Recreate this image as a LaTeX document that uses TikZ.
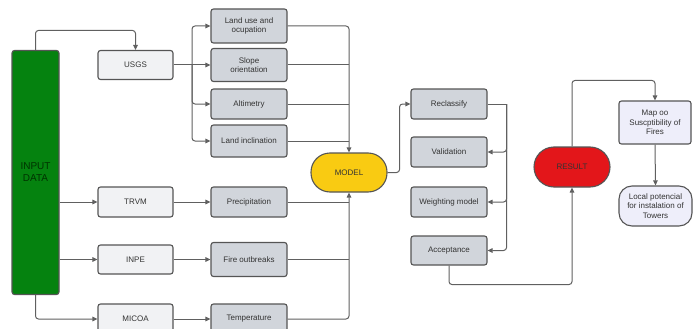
\documentclass[tikz,border=0pt]{standalone}
\usepackage{fontspec}
\setmainfont{Liberation Sans}
\usetikzlibrary{arrows.meta}
\definecolor{lineC}{HTML}{606060}
\definecolor{edgeC}{HTML}{555555}
\definecolor{txtC}{HTML}{333333}
\definecolor{srcC}{HTML}{F1F2F4}
\definecolor{varC}{HTML}{D1D5DB}
\definecolor{grnC}{HTML}{05820F}
\definecolor{ylwC}{HTML}{F9CB12}
\definecolor{redC}{HTML}{E3161A}
\definecolor{lavC}{HTML}{EEEEFA}
\tikzset{
  base/.style={draw=edgeC, line width=1.1pt, rounded corners=2.5pt, align=center,
    text=txtC, font=\fontsize{8}{9.5}\selectfont, inner sep=1pt},
  srcbox/.style={base, fill=srcC, minimum width=75pt, minimum height=29pt},
  varbox/.style={base, fill=varC, minimum width=76pt, minimum height=30pt},
  pill/.style={base, minimum width=76pt, minimum height=39pt, rounded corners=19pt},
  mapbox/.style={base, fill=lavC, minimum width=72pt, minimum height=43pt},
  conn/.style={draw=lineC, line width=1pt, rounded corners=3pt},
  arr/.style={conn, -{Triangle[length=5pt,width=4.5pt]}}
}
\begin{document}
\begin{tikzpicture}[x=1pt,y=-1pt]
\useasboundingbox (0,0) rectangle (693,329);
\clip (0,0) rectangle (693,329);
% input
\node[base, fill=grnC, minimum width=47pt, minimum height=244pt, text=black!80!green,
  font=\fontsize{10}{12}\selectfont] (input) at (35.5,172.5) {INPUT\\DATA};
% sources
\node[srcbox] (usgs) at (135.5,65) {USGS};
\node[srcbox, minimum height=30pt] (trvm) at (135.5,202) {TRVM};
\node[srcbox] (inpe) at (135.5,259.5) {INPE};
\node[srcbox, minimum height=30pt] (micoa) at (135.5,319) {MICOA};
% variables
\node[varbox, minimum height=34pt] (landuse) at (249,26) {Land use and\\ocupation};
\node[varbox, minimum height=33pt] (slope) at (249,65) {Slope\\orientation};
\node[varbox] (alt) at (249,104) {Altimetry};
\node[varbox, minimum height=32pt] (incl) at (249,141) {Land inclination};
\node[varbox] (precip) at (249,202) {Precipitation};
\node[varbox, minimum height=34pt] (fire) at (249,259.5) {Fire outbreaks};
\node[varbox] (temp) at (249,319) {Temperature};
% model
\node[pill, fill=ylwC] (model) at (349,172.5) {MODEL};
% steps
\node[varbox] (recl) at (449,104) {Reclassify};
\node[varbox] (valid) at (449,152) {Validation};
\node[varbox] (weight) at (449,202) {Weighting model};
\node[varbox, minimum height=29pt] (accept) at (449,250.5) {Acceptance};
% result
\node[pill, fill=redC, minimum height=40pt, rounded corners=20pt] (result) at (572,167) {RESULT};
\node[mapbox] (map) at (655,122.5) {Map oo\\Suscptibility of\\Fires};
\node[mapbox, minimum height=40pt, rounded corners=13pt, minimum width=73pt] (local) at (655.5,206) {Local potencial\\for instalation of\\Towers};
% connectors from input
\draw[arr] (input.north) -- ++(0,-19.5) -| (usgs.north);
\draw[arr] (trvm.west -| input.east) -- (trvm.west);
\draw[arr] (inpe.west -| input.east) -- (inpe.west);
\draw[arr] (input.south) |- (micoa.west);
% USGS branches
\coordinate (b1) at (192,65);
\draw[conn] (usgs.east) -- (b1);
\draw[arr] (b1) |- (landuse.west);
\draw[arr] (b1) -- (slope.west);
\draw[arr] (b1) |- (alt.west);
\draw[arr] (b1) |- (incl.west);
% to model top
\draw[arr] (landuse.east) -| (model.north);
\draw[conn] (slope.east) -- (slope.east -| model.north);
\draw[conn] (alt.east) -- (alt.east -| model.north);
\draw[conn] (incl.east) -- (incl.east -| model.north);
% sources to variables
\draw[arr] (trvm.east) -- (precip.west);
\draw[arr] (inpe.east) -- (fire.west);
\draw[arr] (micoa.east) -- (temp.west);
% to model bottom
\draw[arr] (temp.east) -| (model.south);
\draw[conn] (precip.east) -- (precip.east -| model.south);
\draw[conn] (fire.east) -- (fire.east -| model.south);
% model to steps
\draw[arr] (model.east) -- ++(12,0) |- (recl.west);
\draw[conn] (recl.east) -- ++(19,0) coordinate (b2);
\draw[arr] (b2) |- (valid.east);
\draw[arr] (b2) |- (weight.east);
\draw[arr] (b2) |- (accept.east);
% acceptance to result
\draw[arr] (accept.south) -- ++(0,19) -| (result.south);
% result to map
\draw[arr] (result.north) -- ++(0,-66) -| (map.north);
\draw[arr] (map.south) -- (local.north);
\end{tikzpicture}
\end{document}
